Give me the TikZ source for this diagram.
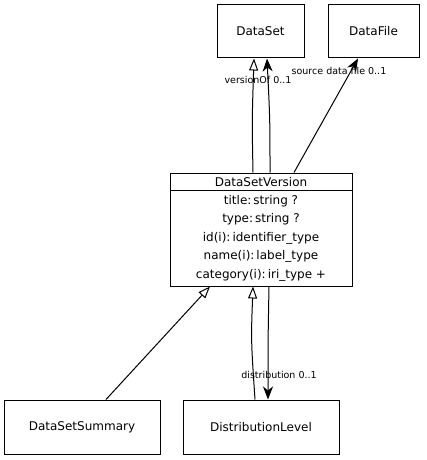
\documentclass[tikz,border=0pt]{standalone}
\usepackage{fontspec}
\setmainfont{DejaVu Sans}
\usetikzlibrary{arrows.meta}
\begin{document}
\begin{tikzpicture}[x=1pt,y=-1pt,
  box/.style={draw, line width=1pt, inner sep=0pt, font=\fontsize{12}{14}\selectfont},
  attr/.style={inner sep=0pt, font=\fontsize{12}{14}\selectfont},
  lbl/.style={inner sep=0pt, font=\fontsize{9.5}{11}\selectfont},
  gen/.style={draw, line width=1pt, -{Triangle[open, length=12pt, width=9pt]}},
  nav/.style={draw, line width=1pt, -{Stealth[length=13pt, width=10pt, inset=4pt]}}]
\useasboundingbox[fill=white] (0,0) rectangle (426,460);
\node[box, minimum width=87pt, minimum height=53pt] (ds) at (260.5,31.5) {DataSet};
\node[box, minimum width=91pt, minimum height=53pt] (df) at (373.5,31.5) {DataFile};
\node[box, minimum width=182pt, minimum height=113pt] (dsv) at (261,229.5) {};
\coordinate (hl) at (170,190);
\coordinate (hr) at (352,190);
\draw[line width=1pt] (hl) -- (hr);
\node[attr] (hdr) at (261,182) {DataSetVersion};
\node[attr] (a1) at (261,201) {title:\,string ?};
\node[attr] (a2) at (261,219) {type:\,string ?};
\node[attr] (a3) at (261,238) {id(i):\,identifier\_type};
\node[attr] (a4) at (261,256) {name(i):\,label\_type};
\node[attr] (a5) at (261,275) {category(i):\,iri\_type +};
\node[box, minimum width=156pt, minimum height=54pt] (dss) at (82,427) {DataSetSummary};
\node[box, minimum width=156pt, minimum height=54pt] (dl) at (261,427) {DistributionLevel};
% DataSetVersion -> DataSet
\draw[gen] ([xshift=-8pt]dsv.north) .. controls (252,120) .. ([xshift=-6.5pt]ds.south);
\draw[nav] ([xshift=9pt]dsv.north) .. controls (270,120) .. ([xshift=6.5pt]ds.south);
\node[lbl] (l1) at (258,80) {versionOf 0..1};
% DataSetVersion -> DataFile
\draw[nav] ([xshift=33pt]dsv.north) -- ([xshift=-15.5pt]df.south);
\node[lbl] (l2) at (339,71) {source data file 0..1};
% DataSetSummary -> DataSetVersion
\draw[gen] ([xshift=24pt]dss.north) -- ([xshift=-51pt]dsv.south);
% DistributionLevel -> DataSetVersion
\draw[gen] ([xshift=-6pt]dl.north) .. controls (251,340) .. ([xshift=-8pt]dsv.south);
\draw[nav] ([xshift=8pt]dsv.south) .. controls (268,340) .. ([xshift=7pt]dl.north);
\node[lbl] (l3) at (279,375) {distribution 0..1};
\end{tikzpicture}
\end{document}
